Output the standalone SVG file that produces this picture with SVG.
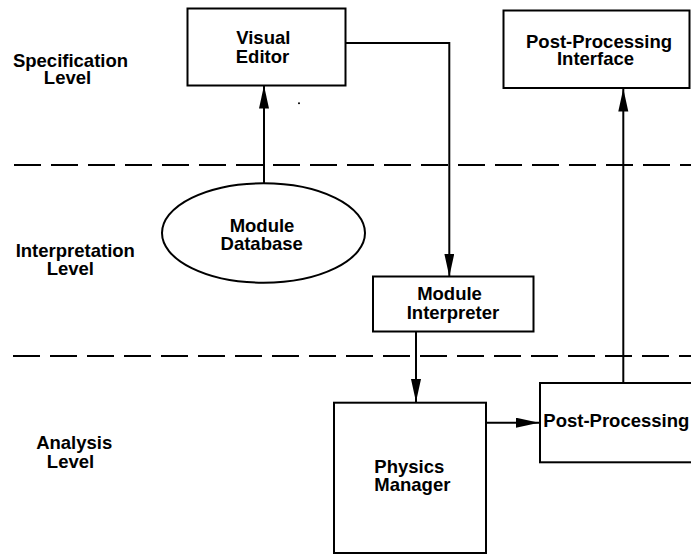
<svg xmlns="http://www.w3.org/2000/svg" width="691" height="555" viewBox="0 0 691 555">
  <style>
    .box { fill: #fff; stroke: #000; stroke-width: 2; }
    .lbl { font-family: "Liberation Sans", Arial, Helvetica, sans-serif; font-weight: bold; font-size: 18.5px; fill: #000; }
    .mid { text-anchor: middle; }
    .level { stroke: #000; stroke-width: 2; stroke-dasharray: 27 10; fill: none; }
    .wire { stroke: #000; stroke-width: 2; fill: none; marker-end: url(#arrow); }
    .wire-plain { stroke: #000; stroke-width: 2; fill: none; }
  </style>
  <defs>
    <marker id="arrow" markerUnits="userSpaceOnUse" markerWidth="24" markerHeight="12" refX="23" refY="5" orient="auto">
      <path d="M0,0 L23,5 L0,10 Z" fill="#000"/>
    </marker>
  </defs>

  <rect width="691" height="555" fill="#fff"/>

  <!-- level separators -->
  <g id="levels">
    <line class="level" x1="14" y1="165" x2="691" y2="165"/>
    <line class="level" x1="13" y1="356" x2="691" y2="356"/>
    <text class="lbl mid" x="70.5" y="67">Specification</text>
    <text class="lbl mid" x="67.5" y="84">Level</text>
    <text class="lbl mid" x="75.3" y="256.7">Interpretation</text>
    <text class="lbl mid" x="70.3" y="275">Level</text>
    <text class="lbl mid" x="74.2" y="449.3">Analysis</text>
    <text class="lbl mid" x="70.5" y="468.3">Level</text>
  </g>

  <!-- connectors -->
  <g id="connectors">
    <line class="wire" x1="264" y1="183.5" x2="264" y2="85.5"/>
    <polyline class="wire" points="346,43 449.3,43 449.3,276.5"/>
    <line class="wire" x1="416" y1="332" x2="416" y2="402"/>
    <line class="wire" x1="486" y1="422.7" x2="539" y2="422.7"/>
    <line class="wire" x1="623.3" y1="383" x2="623.3" y2="88.5"/>
  </g>

  <g id="visual-editor">
    <rect class="box" x="187.5" y="8.5" width="158" height="77"/>
    <text class="lbl mid" x="263.3" y="44">Visual</text>
    <text class="lbl mid" x="262.5" y="63">Editor</text>
  </g>

  <g id="post-processing-interface">
    <rect class="box" x="503.5" y="10.5" width="186" height="77.5"/>
    <text class="lbl mid" x="599" y="48">Post-Processing</text>
    <text class="lbl mid" x="595.5" y="65">Interface</text>
  </g>

  <g id="module-database">
    <ellipse class="box" cx="263.5" cy="233" rx="101.5" ry="49.7"/>
    <text class="lbl mid" x="262" y="231.7">Module</text>
    <text class="lbl mid" x="261.7" y="250">Database</text>
  </g>

  <g id="module-interpreter">
    <rect class="box" x="373" y="276.5" width="160.5" height="55"/>
    <text class="lbl mid" x="449.5" y="300">Module</text>
    <text class="lbl mid" x="453" y="319">Interpreter</text>
  </g>

  <g id="physics-manager">
    <rect class="box" x="334" y="402.7" width="152" height="150.3"/>
    <text class="lbl" x="374.3" y="472.7">Physics</text>
    <text class="lbl" x="374.3" y="491">Manager</text>
  </g>

  <g id="post-processing">
    <rect class="box" x="540" y="383" width="160" height="79.3"/>
    <text class="lbl" x="543.3" y="426.7">Post-Processing</text>
  </g>

  <circle cx="299" cy="103.3" r="1" fill="#000"/>
</svg>
